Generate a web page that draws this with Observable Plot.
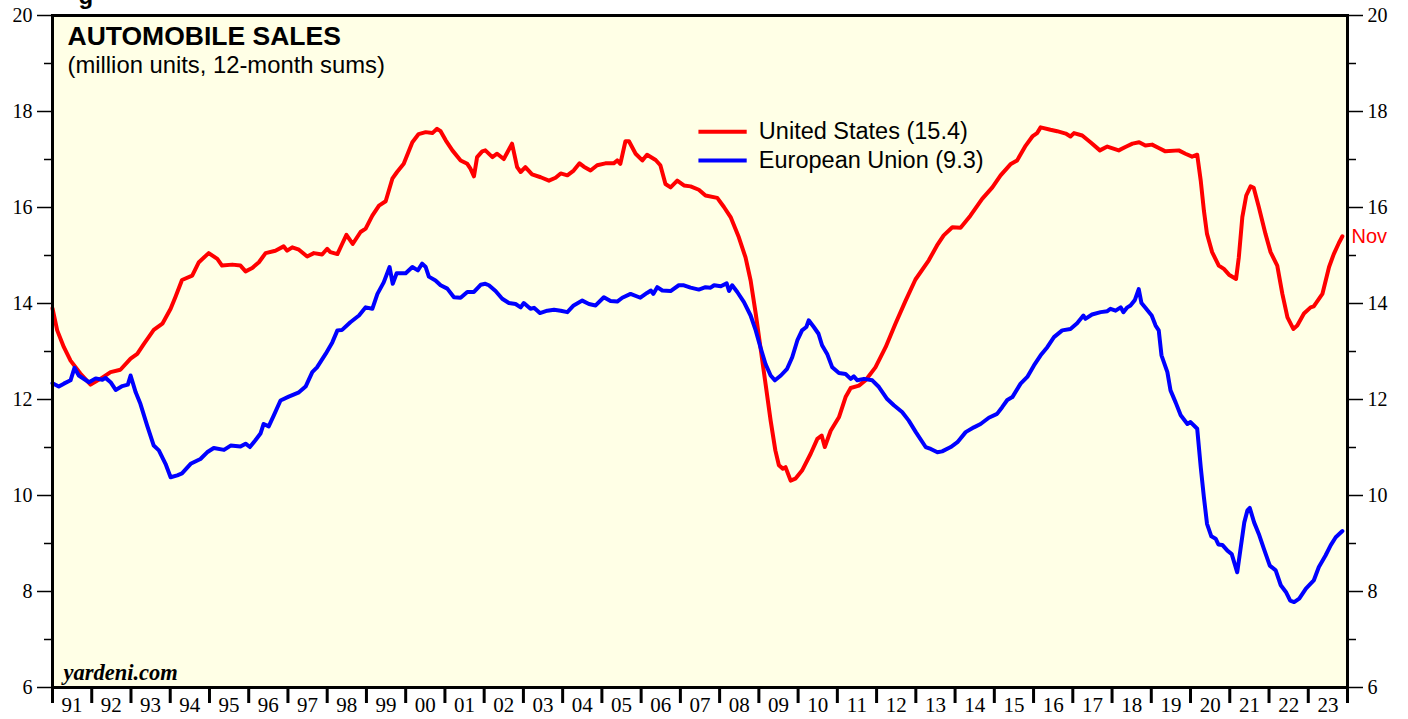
<!DOCTYPE html>
<html>
<head>
<meta charset="utf-8">
<script src="https://cdn.jsdelivr.net/npm/d3@7"></script>
<script src="https://cdn.jsdelivr.net/npm/@observablehq/plot@0.6"></script>
<style>
  html, body { margin: 0; padding: 0; background: #ffffff; }
  #chart svg { display: block; }
</style>
</head>
<body>
<div id="chart"></div>
<script>
// ---- Data (decimal year, million units, 12-month sums) ----
const yearLabels = ["91","92","93","94","95","96","97","98","99","00","01","02","03","04","05","06","07","08","09","10","11","12","13","14","15","16","17","18","19","20","21","22","23"];
const yMajorTicks = [6, 8, 10, 12, 14, 16, 18, 20];
const yMinorTicks = [7, 9, 11, 13, 15, 17, 19];

const usSales = [
  [1991.00,13.90],[1991.12,13.44],[1991.29,13.09],[1991.46,12.81],[1991.71,12.54],[1991.97,12.31],
  [1992.22,12.43],[1992.48,12.57],[1992.73,12.62],[1992.99,12.85],[1993.16,12.95],[1993.33,13.16],
  [1993.58,13.45],[1993.80,13.58],[1994.01,13.89],[1994.13,14.13],[1994.30,14.49],[1994.56,14.58],
  [1994.73,14.86],[1994.98,15.05],[1995.20,14.93],[1995.32,14.79],[1995.58,14.81],[1995.79,14.79],
  [1995.92,14.67],[1996.09,14.74],[1996.26,14.86],[1996.43,15.05],[1996.68,15.10],[1996.89,15.19],
  [1996.98,15.10],[1997.11,15.17],[1997.28,15.12],[1997.49,14.98],[1997.66,15.05],[1997.87,15.02],
  [1998.00,15.14],[1998.08,15.07],[1998.26,15.03],[1998.38,15.24],[1998.49,15.43],[1998.65,15.24],
  [1998.85,15.49],[1998.98,15.56],[1999.15,15.83],[1999.32,16.04],[1999.49,16.13],[1999.66,16.60],
  [1999.78,16.74],[1999.95,16.91],[2000.17,17.36],[2000.33,17.53],[2000.51,17.57],[2000.68,17.55],
  [2000.80,17.64],[2000.89,17.59],[2001.02,17.40],[2001.19,17.19],[2001.40,16.98],[2001.57,16.91],
  [2001.65,16.81],[2001.74,16.65],[2001.82,17.05],[2001.95,17.17],[2002.03,17.19],[2002.21,17.05],
  [2002.33,17.12],[2002.50,17.01],[2002.71,17.33],[2002.84,16.84],[2002.93,16.74],[2003.05,16.84],
  [2003.22,16.69],[2003.44,16.63],[2003.65,16.56],[2003.82,16.62],[2003.95,16.71],[2004.12,16.67],
  [2004.28,16.77],[2004.43,16.92],[2004.54,16.85],[2004.71,16.77],[2004.88,16.88],[2005.09,16.92],
  [2005.30,16.92],[2005.39,16.98],[2005.47,16.91],[2005.60,17.38],[2005.69,17.38],[2005.86,17.12],
  [2006.03,16.98],[2006.15,17.10],[2006.37,16.99],[2006.49,16.88],[2006.62,16.49],[2006.75,16.42],
  [2006.92,16.56],[2007.09,16.46],[2007.26,16.44],[2007.47,16.37],[2007.64,16.25],[2007.94,16.20],
  [2008.11,16.01],[2008.28,15.80],[2008.49,15.38],[2008.66,14.96],[2008.79,14.48],[2008.92,13.79],
  [2009.04,13.09],[2009.17,12.33],[2009.30,11.56],[2009.42,10.94],[2009.51,10.63],[2009.61,10.56],
  [2009.68,10.59],[2009.81,10.31],[2009.93,10.35],[2010.10,10.52],[2010.32,10.87],[2010.49,11.18],
  [2010.60,11.25],[2010.68,11.01],[2010.83,11.35],[2011.04,11.63],[2011.21,12.05],[2011.34,12.24],
  [2011.55,12.29],[2011.72,12.40],[2011.97,12.67],[2012.23,13.09],[2012.48,13.58],[2012.74,14.06],
  [2012.99,14.50],[2013.33,14.90],[2013.54,15.21],[2013.71,15.42],[2013.93,15.59],[2014.14,15.58],
  [2014.39,15.83],[2014.69,16.18],[2014.95,16.42],[2015.16,16.67],[2015.41,16.90],[2015.58,16.98],
  [2015.80,17.29],[2015.97,17.48],[2016.09,17.55],[2016.18,17.67],[2016.43,17.62],[2016.60,17.59],
  [2016.82,17.54],[2016.94,17.48],[2017.03,17.55],[2017.24,17.50],[2017.45,17.36],[2017.69,17.19],
  [2017.88,17.27],[2018.17,17.19],[2018.34,17.26],[2018.52,17.33],[2018.69,17.36],[2018.85,17.29],
  [2019.02,17.31],[2019.19,17.24],[2019.36,17.17],[2019.70,17.19],[2019.87,17.12],[2020.04,17.06],
  [2020.17,17.10],[2020.26,16.56],[2020.34,15.94],[2020.42,15.45],[2020.55,15.07],[2020.72,14.79],
  [2020.85,14.72],[2020.98,14.60],[2021.16,14.51],[2021.23,14.96],[2021.32,15.80],[2021.42,16.25],
  [2021.53,16.44],[2021.61,16.41],[2021.74,16.01],[2021.91,15.45],[2022.04,15.07],[2022.21,14.79],
  [2022.34,14.20],[2022.47,13.71],[2022.62,13.47],[2022.72,13.54],[2022.89,13.79],[2023.06,13.92],
  [2023.14,13.94],[2023.36,14.20],[2023.53,14.76],[2023.65,15.03],[2023.78,15.26],[2023.87,15.40]
];

const euSales = [
  [1991.00,12.34],[1991.16,12.27],[1991.29,12.33],[1991.46,12.40],[1991.56,12.66],[1991.67,12.50],
  [1991.93,12.36],[1992.10,12.44],[1992.27,12.41],[1992.35,12.45],[1992.48,12.36],[1992.61,12.20],
  [1992.78,12.28],[1992.92,12.31],[1992.99,12.50],[1993.12,12.15],[1993.24,11.91],[1993.41,11.46],
  [1993.58,11.04],[1993.71,10.94],[1993.88,10.66],[1994.01,10.38],[1994.18,10.42],[1994.30,10.46],
  [1994.52,10.66],[1994.77,10.76],[1994.94,10.90],[1995.11,10.99],[1995.37,10.95],[1995.54,11.04],
  [1995.79,11.02],[1995.92,11.08],[1996.03,11.01],[1996.17,11.15],[1996.30,11.29],[1996.38,11.49],
  [1996.51,11.44],[1996.64,11.67],[1996.81,11.98],[1997.02,12.06],[1997.28,12.15],[1997.45,12.27],
  [1997.62,12.57],[1997.74,12.67],[1997.96,12.95],[1998.13,13.19],[1998.26,13.44],[1998.38,13.45],
  [1998.59,13.61],[1998.81,13.75],[1998.98,13.92],[1999.15,13.89],[1999.28,14.20],[1999.44,14.44],
  [1999.59,14.76],[1999.67,14.41],[1999.77,14.63],[2000.00,14.63],[2000.17,14.76],[2000.31,14.69],
  [2000.42,14.83],[2000.51,14.76],[2000.59,14.56],[2000.76,14.48],[2000.89,14.38],[2001.06,14.31],
  [2001.23,14.13],[2001.40,14.12],[2001.57,14.24],[2001.74,14.24],[2001.91,14.39],[2002.03,14.41],
  [2002.12,14.38],[2002.29,14.26],[2002.46,14.10],[2002.63,14.01],[2002.80,13.99],[2002.93,13.92],
  [2003.01,14.01],[2003.18,13.89],[2003.27,13.91],[2003.42,13.80],[2003.61,13.85],[2003.78,13.87],
  [2003.95,13.85],[2004.12,13.82],[2004.28,13.96],[2004.50,14.06],[2004.67,13.99],[2004.84,13.96],
  [2005.05,14.13],[2005.22,14.05],[2005.39,14.04],[2005.52,14.12],[2005.73,14.20],[2005.98,14.12],
  [2006.15,14.22],[2006.25,14.27],[2006.31,14.20],[2006.41,14.34],[2006.54,14.27],[2006.75,14.26],
  [2006.96,14.38],[2007.09,14.38],[2007.26,14.33],[2007.47,14.29],[2007.64,14.34],[2007.77,14.33],
  [2007.86,14.38],[2008.03,14.36],[2008.18,14.42],[2008.24,14.26],[2008.32,14.38],[2008.45,14.24],
  [2008.62,14.03],[2008.79,13.75],[2008.92,13.44],[2009.04,13.09],[2009.17,12.74],[2009.30,12.50],
  [2009.41,12.40],[2009.56,12.50],[2009.72,12.64],[2009.85,12.88],[2009.98,13.23],[2010.10,13.44],
  [2010.21,13.51],[2010.27,13.65],[2010.40,13.51],[2010.52,13.37],[2010.61,13.13],[2010.74,12.95],
  [2010.87,12.67],[2011.04,12.55],[2011.21,12.53],[2011.34,12.43],[2011.42,12.48],[2011.51,12.40],
  [2011.68,12.43],[2011.89,12.40],[2012.06,12.26],[2012.27,12.01],[2012.44,11.88],[2012.65,11.74],
  [2012.82,11.56],[2013.00,11.32],[2013.25,11.01],[2013.38,10.97],[2013.55,10.90],[2013.67,10.92],
  [2013.89,11.01],[2014.06,11.11],[2014.27,11.32],[2014.48,11.42],[2014.65,11.49],[2014.86,11.62],
  [2015.07,11.70],[2015.20,11.84],[2015.33,11.99],[2015.46,12.05],[2015.67,12.33],[2015.84,12.47],
  [2016.01,12.71],[2016.18,12.92],[2016.35,13.09],[2016.52,13.30],[2016.73,13.44],[2016.94,13.47],
  [2017.11,13.59],[2017.27,13.75],[2017.32,13.68],[2017.49,13.77],[2017.71,13.82],[2017.88,13.84],
  [2017.96,13.89],[2018.09,13.85],[2018.22,13.92],[2018.29,13.82],[2018.39,13.92],[2018.47,13.96],
  [2018.58,14.07],[2018.68,14.30],[2018.75,14.01],[2018.85,13.91],[2019.01,13.75],[2019.11,13.54],
  [2019.19,13.44],[2019.26,12.92],[2019.41,12.57],[2019.49,12.19],[2019.62,11.94],[2019.75,11.67],
  [2019.92,11.49],[2020.00,11.53],[2020.17,11.39],[2020.26,10.59],[2020.34,9.97],[2020.42,9.41],
  [2020.53,9.15],[2020.64,9.10],[2020.71,8.98],[2020.81,8.97],[2020.94,8.85],[2021.05,8.78],
  [2021.19,8.40],[2021.28,8.92],[2021.37,9.44],[2021.45,9.69],[2021.51,9.74],[2021.62,9.44],
  [2021.74,9.20],[2021.87,8.89],[2022.02,8.54],[2022.17,8.44],[2022.30,8.13],[2022.43,7.99],
  [2022.54,7.81],[2022.64,7.78],[2022.77,7.85],[2022.94,8.06],[2023.14,8.23],[2023.27,8.51],
  [2023.44,8.75],[2023.57,8.96],[2023.70,9.13],[2023.87,9.26]
];

const legendItems = [
  {label: "United States (15.4)", color: "#ff0000", y: 17.58},
  {label: "European Union (9.3)", color: "#0000ff", y: 16.98}
];
const legendX1 = 2007.46, legendX2 = 2008.69, legendTextX = 2009.0;

const firstYear = 1991;
const yearTicks = d3.range(firstYear, firstYear + yearLabels.length + 1);
const yearCenters = yearLabels.map((_, i) => firstYear + i + 0.5);
const lastUS = usSales[usSales.length - 1];

const serif = "'Liberation Serif', 'Times New Roman', serif";
const sans = "'Liberation Sans', Arial, Helvetica, sans-serif";

const chart = Plot.plot({
  width: 1408,
  height: 719,
  marginLeft: 52,
  marginRight: 61,
  marginTop: 15,
  marginBottom: 32,
  x: {domain: [firstYear, firstYear + yearLabels.length], axis: null},
  y: {domain: [6, 20], axis: null},
  style: {fontFamily: serif, fontSize: "20px", color: "black", background: "white", overflow: "visible"},
  marks: [
    Plot.frame({fill: "#ffffe6", stroke: "none"}),
    Plot.line(usSales, {x: d => d[0], y: d => d[1], stroke: "#ff0000", strokeWidth: 4, strokeLinejoin: "round"}),
    Plot.line(euSales, {x: d => d[0], y: d => d[1], stroke: "#0000ff", strokeWidth: 4, strokeLinejoin: "round"}),
    // left axis
    Plot.axisY(yMajorTicks, {anchor: "left", tickSize: 15, tickPadding: 5, strokeWidth: 1.5, fontSize: 20, fontFamily: serif, label: null}),
    Plot.axisY(yMinorTicks, {anchor: "left", tickSize: 8, strokeWidth: 1.5, tickFormat: () => "", label: null}),
    // right axis
    Plot.axisY(yMajorTicks, {anchor: "right", tickSize: 15, tickPadding: 5, strokeWidth: 1.5, fontSize: 20, fontFamily: serif, label: null}),
    Plot.axisY(yMinorTicks, {anchor: "right", tickSize: 8, strokeWidth: 1.5, tickFormat: () => "", label: null}),
    // bottom axis: year boundary ticks and centered labels
    Plot.axisX(yearTicks, {anchor: "bottom", tickSize: 16, strokeWidth: 3, tickFormat: () => "", label: null}),
    Plot.axisX(yearCenters, {anchor: "bottom", tickSize: 0, tickPadding: 10, fontSize: 21, fontFamily: serif, tickFormat: (d, i) => yearLabels[i], label: null}),
    Plot.frame({stroke: "black", strokeWidth: 3}),
    // titles
    Plot.text(["AUTOMOBILE SALES"], {frameAnchor: "top-left", dx: 15, dy: 21, textAnchor: "start", lineAnchor: "middle", fontFamily: sans, fontWeight: "bold", fontSize: 26.5, fill: "black"}),
    Plot.text(["(million units, 12-month sums)"], {frameAnchor: "top-left", dx: 15, dy: 50, textAnchor: "start", lineAnchor: "middle", fontFamily: sans, fontSize: 23.8, fill: "black"}),
    Plot.text(["yardeni.com"], {frameAnchor: "bottom-left", dx: 11, dy: -15, textAnchor: "start", lineAnchor: "middle", fontFamily: serif, fontWeight: "bold", fontStyle: "italic", fontSize: 22.5, fill: "black"}),
    Plot.text(["g"], {frameAnchor: "top-left", dx: 26, dy: -12, textAnchor: "start", lineAnchor: "bottom", fontFamily: sans, fontWeight: "bold", fontSize: 24, fill: "black"}),
    // legend
    Plot.link(legendItems, {x1: legendX1, x2: legendX2, y1: d => d.y, y2: d => d.y, stroke: d => d.color, strokeWidth: 4}),
    Plot.text(legendItems, {x: legendTextX, y: d => d.y, text: d => d.label, textAnchor: "start", lineAnchor: "middle", fontFamily: sans, fontSize: 23.5, fill: "black"}),
    // last-month label
    Plot.text([lastUS], {x: firstYear + yearLabels.length, y: d => d[1], text: () => "Nov", dx: 4, textAnchor: "start", lineAnchor: "middle", fontFamily: sans, fontSize: 20, fill: "#ff0000"})
  ]
});

document.getElementById("chart").appendChild(chart);
</script>
</body>
</html>
